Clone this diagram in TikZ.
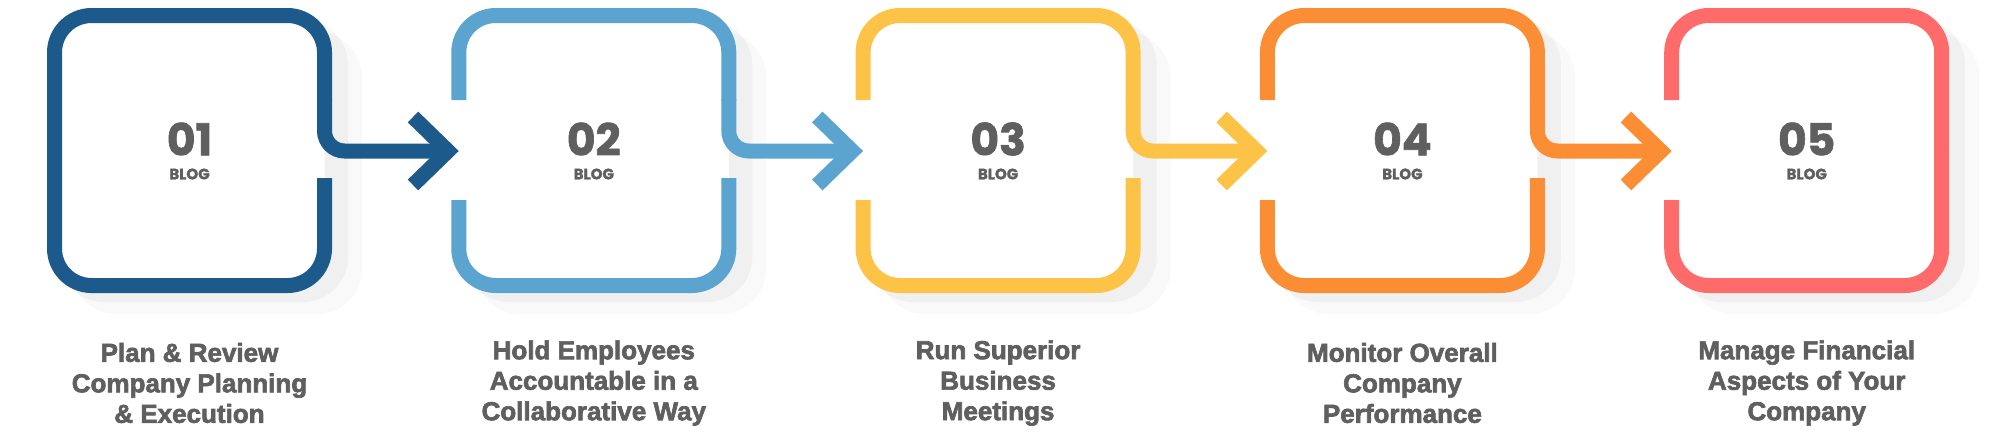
\documentclass[tikz,border=0pt]{standalone}
\usepackage{fontspec}
\setmainfont{Liberation Sans}[BoldFeatures={FakeBold=2.5}]
\newfontfamily\numfont{Poppins}[BoldFeatures={FakeBold=1.5}]
\definecolor{cA}{HTML}{1B5A8A}
\definecolor{cB}{HTML}{5BA4CF}
\definecolor{cC}{HTML}{FDC346}
\definecolor{cD}{HTML}{FB8E34}
\definecolor{cE}{HTML}{FF6B6B}
\definecolor{txt}{HTML}{5F5F5F}
\tikzset{
  ring/.style={line width=15pt, line cap=butt},
  chev/.style={line width=15pt, miter limit=10},
  num/.style={font=\numfont\bfseries\fontsize{44}{44}\selectfont, text=txt, inner sep=0pt},
  blog/.style={font=\numfont\bfseries\fontsize{15}{15}\selectfont, text=txt, inner sep=0pt},
  lbl/.style={font=\bfseries\fontsize{26}{30.5}\selectfont, text=txt, align=center}
}
\begin{document}
\begin{tikzpicture}[x=1pt,y=-1pt]
\useasboundingbox (0,0) rectangle (2000,439);
\foreach \i/\c/\n/\t in {0/cA/01/{Plan \& Review\\Company Planning\\\& Execution},
                          1/cB/02/{Hold Employees\\Accountable in a\\Collaborative Way},
                          2/cC/03/{Run Superior\\Business\\Meetings},
                          3/cD/04/{Monitor Overall\\Company\\Performance},
                          4/cE/05/{Manage Financial\\Aspects of Your\\Company}}{
  \pgfmathsetmacro{\L}{47+404.3*\i}
  \pgfmathsetmacro{\R}{\L+285}
  % shadow
  \fill[black,opacity=0.035,rounded corners=45pt] (\L+12,20) rectangle (\R+16,302);
  \fill[black,opacity=0.025,rounded corners=45pt] (\L+24,32) rectangle (\R+30,314);
  \fill[white,rounded corners=38pt] (\L+7.5,15.5) rectangle (\R-7.5,285.5);
  % ring
  \ifnum\i=4
    \draw[ring,\c,rounded corners=37pt] (\R-7.5,150) -- (\R-7.5,285.5) -- (\L+7.5,285.5) -- (\L+7.5,200);
    \draw[ring,\c,rounded corners=37pt] (\L+7.5,100) -- (\L+7.5,15.5) -- (\R-7.5,15.5) -- (\R-7.5,151);
  \else
    \ifnum\i=0
      \draw[ring,\c,rounded corners=37pt] (\R-7.5,178) -- (\R-7.5,285.5) -- (\L+7.5,285.5) -- (\L+7.5,15.5) -- (\R-7.5,15.5) -- (\R-7.5,100);
    \else
      \draw[ring,\c,rounded corners=37pt] (\R-7.5,178) -- (\R-7.5,285.5) -- (\L+7.5,285.5) -- (\L+7.5,200);
      \draw[ring,\c,rounded corners=37pt] (\L+7.5,100) -- (\L+7.5,15.5) -- (\R-7.5,15.5) -- (\R-7.5,100);
    \fi
    \draw[ring,\c,rounded corners=20pt] (\R-7.5,99) -- (\R-7.5,151) -- (\R+118,151);
    \draw[chev,\c] (\R+81,117) -- (\R+116,151) -- (\R+81,185);
  \fi
  \node[num] (n\i) at (\L+142.5,139) {\n};
  \node[blog] (b\i) at (\L+142.5,174) {BLOG};
  \node[lbl] (t\i) at (\L+142.5,383) {\t};
}
\end{tikzpicture}
\end{document}
